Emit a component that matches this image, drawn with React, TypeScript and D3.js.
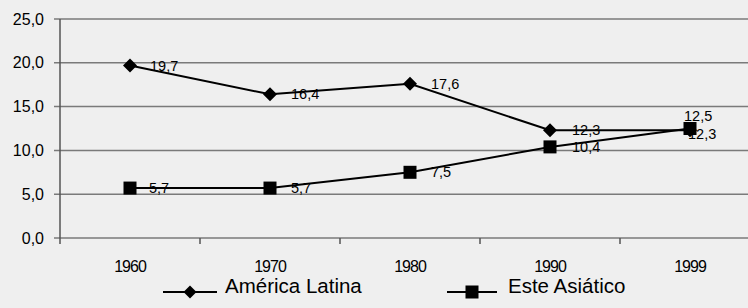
import React from "react";
import * as d3 from "d3";

const years = ["1960", "1970", "1980", "1990", "1999"];
const americaLatina = [19.7, 16.4, 17.6, 12.3, 12.3];
const esteAsiatico = [5.7, 5.7, 7.5, 10.4, 12.5];
const yTicks = [0, 5, 10, 15, 20, 25];
const seriesNames = ["América Latina", "Este Asiático"];

const W = 748;
const H = 308;
const fmt = (v: number) => v.toFixed(1).replace(".", ",");
const FONT = "Liberation Sans, Arial, Helvetica, sans-serif";

// label nudges (dx, dy) per point
const alOffsets = [[20, 0], [21, 0], [21, 0], [22, 0], [-2, 4]];
const eaOffsets = [[19, 0], [21, 0], [21, 0], [22, 0], [-6, -13]];

export default function App() {
  const x = d3.scaleBand<string>().domain(years).range([60, 760]).padding(0);
  const y = d3.scaleLinear().domain([0, 25]).range([238, 19]);
  const cx = (yr: string) => (x(yr) as number) + x.bandwidth() / 2;

  const line = d3
    .line<number>()
    .x((_, i) => cx(years[i]))
    .y((v) => y(v));

  const diamond = (px: number, py: number, r = 7) =>
    `M${px},${py - r}L${px + r},${py}L${px},${py + r}L${px - r},${py}Z`;

  const boundaries = years.map((yr) => x(yr) as number).concat([760]);

  return (
    <svg
      width={W}
      height={H}
      style={{ position: "absolute", left: 0, top: 0, background: "#efefef" }}
      fontFamily={FONT}
    >
      <rect x={0} y={0} width={W} height={H} fill="#efefef" />
      {yTicks.map((t) => (
        <line key={t} x1={54} x2={W} y1={y(t)} y2={y(t)} stroke="#7a7a7a" strokeWidth={1.5} />
      ))}
      <line x1={60} x2={60} y1={y(25)} y2={y(0)} stroke="#555" strokeWidth={1.5} />
      {boundaries.map((b, i) => (
        <line key={i} x1={b} x2={b} y1={y(0)} y2={y(0) + 6} stroke="#555" strokeWidth={1.5} />
      ))}
      {yTicks.map((t) => (
        <text key={t} x={44} y={y(t)} dy="0.35em" textAnchor="end" fontSize={16} fill="#000">
          {fmt(t)}
        </text>
      ))}
      {years.map((yr) => (
        <text key={yr} x={cx(yr)} y={272} textAnchor="middle" fontSize={16} letterSpacing={-1} fill="#000">
          {yr}
        </text>
      ))}
      <path d={line(americaLatina) || ""} fill="none" stroke="#000" strokeWidth={2} />
      <path d={line(esteAsiatico) || ""} fill="none" stroke="#000" strokeWidth={2} />
      {americaLatina.map((v, i) => (
        <text key={"al" + i} x={cx(years[i]) + alOffsets[i][0]} y={y(v) + alOffsets[i][1]} dy="0.35em" fontSize={14.5} fill="#000">
          {fmt(v)}
        </text>
      ))}
      {esteAsiatico.map((v, i) => (
        <text key={"ea" + i} x={cx(years[i]) + eaOffsets[i][0]} y={y(v) + eaOffsets[i][1]} dy="0.35em" fontSize={14.5} fill="#000">
          {fmt(v)}
        </text>
      ))}
      {americaLatina.map((v, i) => (
        <path key={"am" + i} d={diamond(cx(years[i]), y(v))} fill="#000" />
      ))}
      {esteAsiatico.map((v, i) => (
        <rect key={"em" + i} x={cx(years[i]) - 6.5} y={y(v) - 6.5} width={13} height={13} fill="#000" />
      ))}
      <line x1={163} x2={217} y1={292} y2={292} stroke="#000" strokeWidth={2} />
      <path d={diamond(190, 292, 6.5)} fill="#000" />
      <text x={225} y={293} fontSize={20.5} fill="#000">{seriesNames[0]}</text>
      <line x1={447} x2={497} y1={292} y2={292} stroke="#000" strokeWidth={2} />
      <rect x={465.5} y={285.5} width={13} height={13} fill="#000" />
      <text x={508} y={293} fontSize={20.5} fill="#000">{seriesNames[1]}</text>
    </svg>
  );
}
